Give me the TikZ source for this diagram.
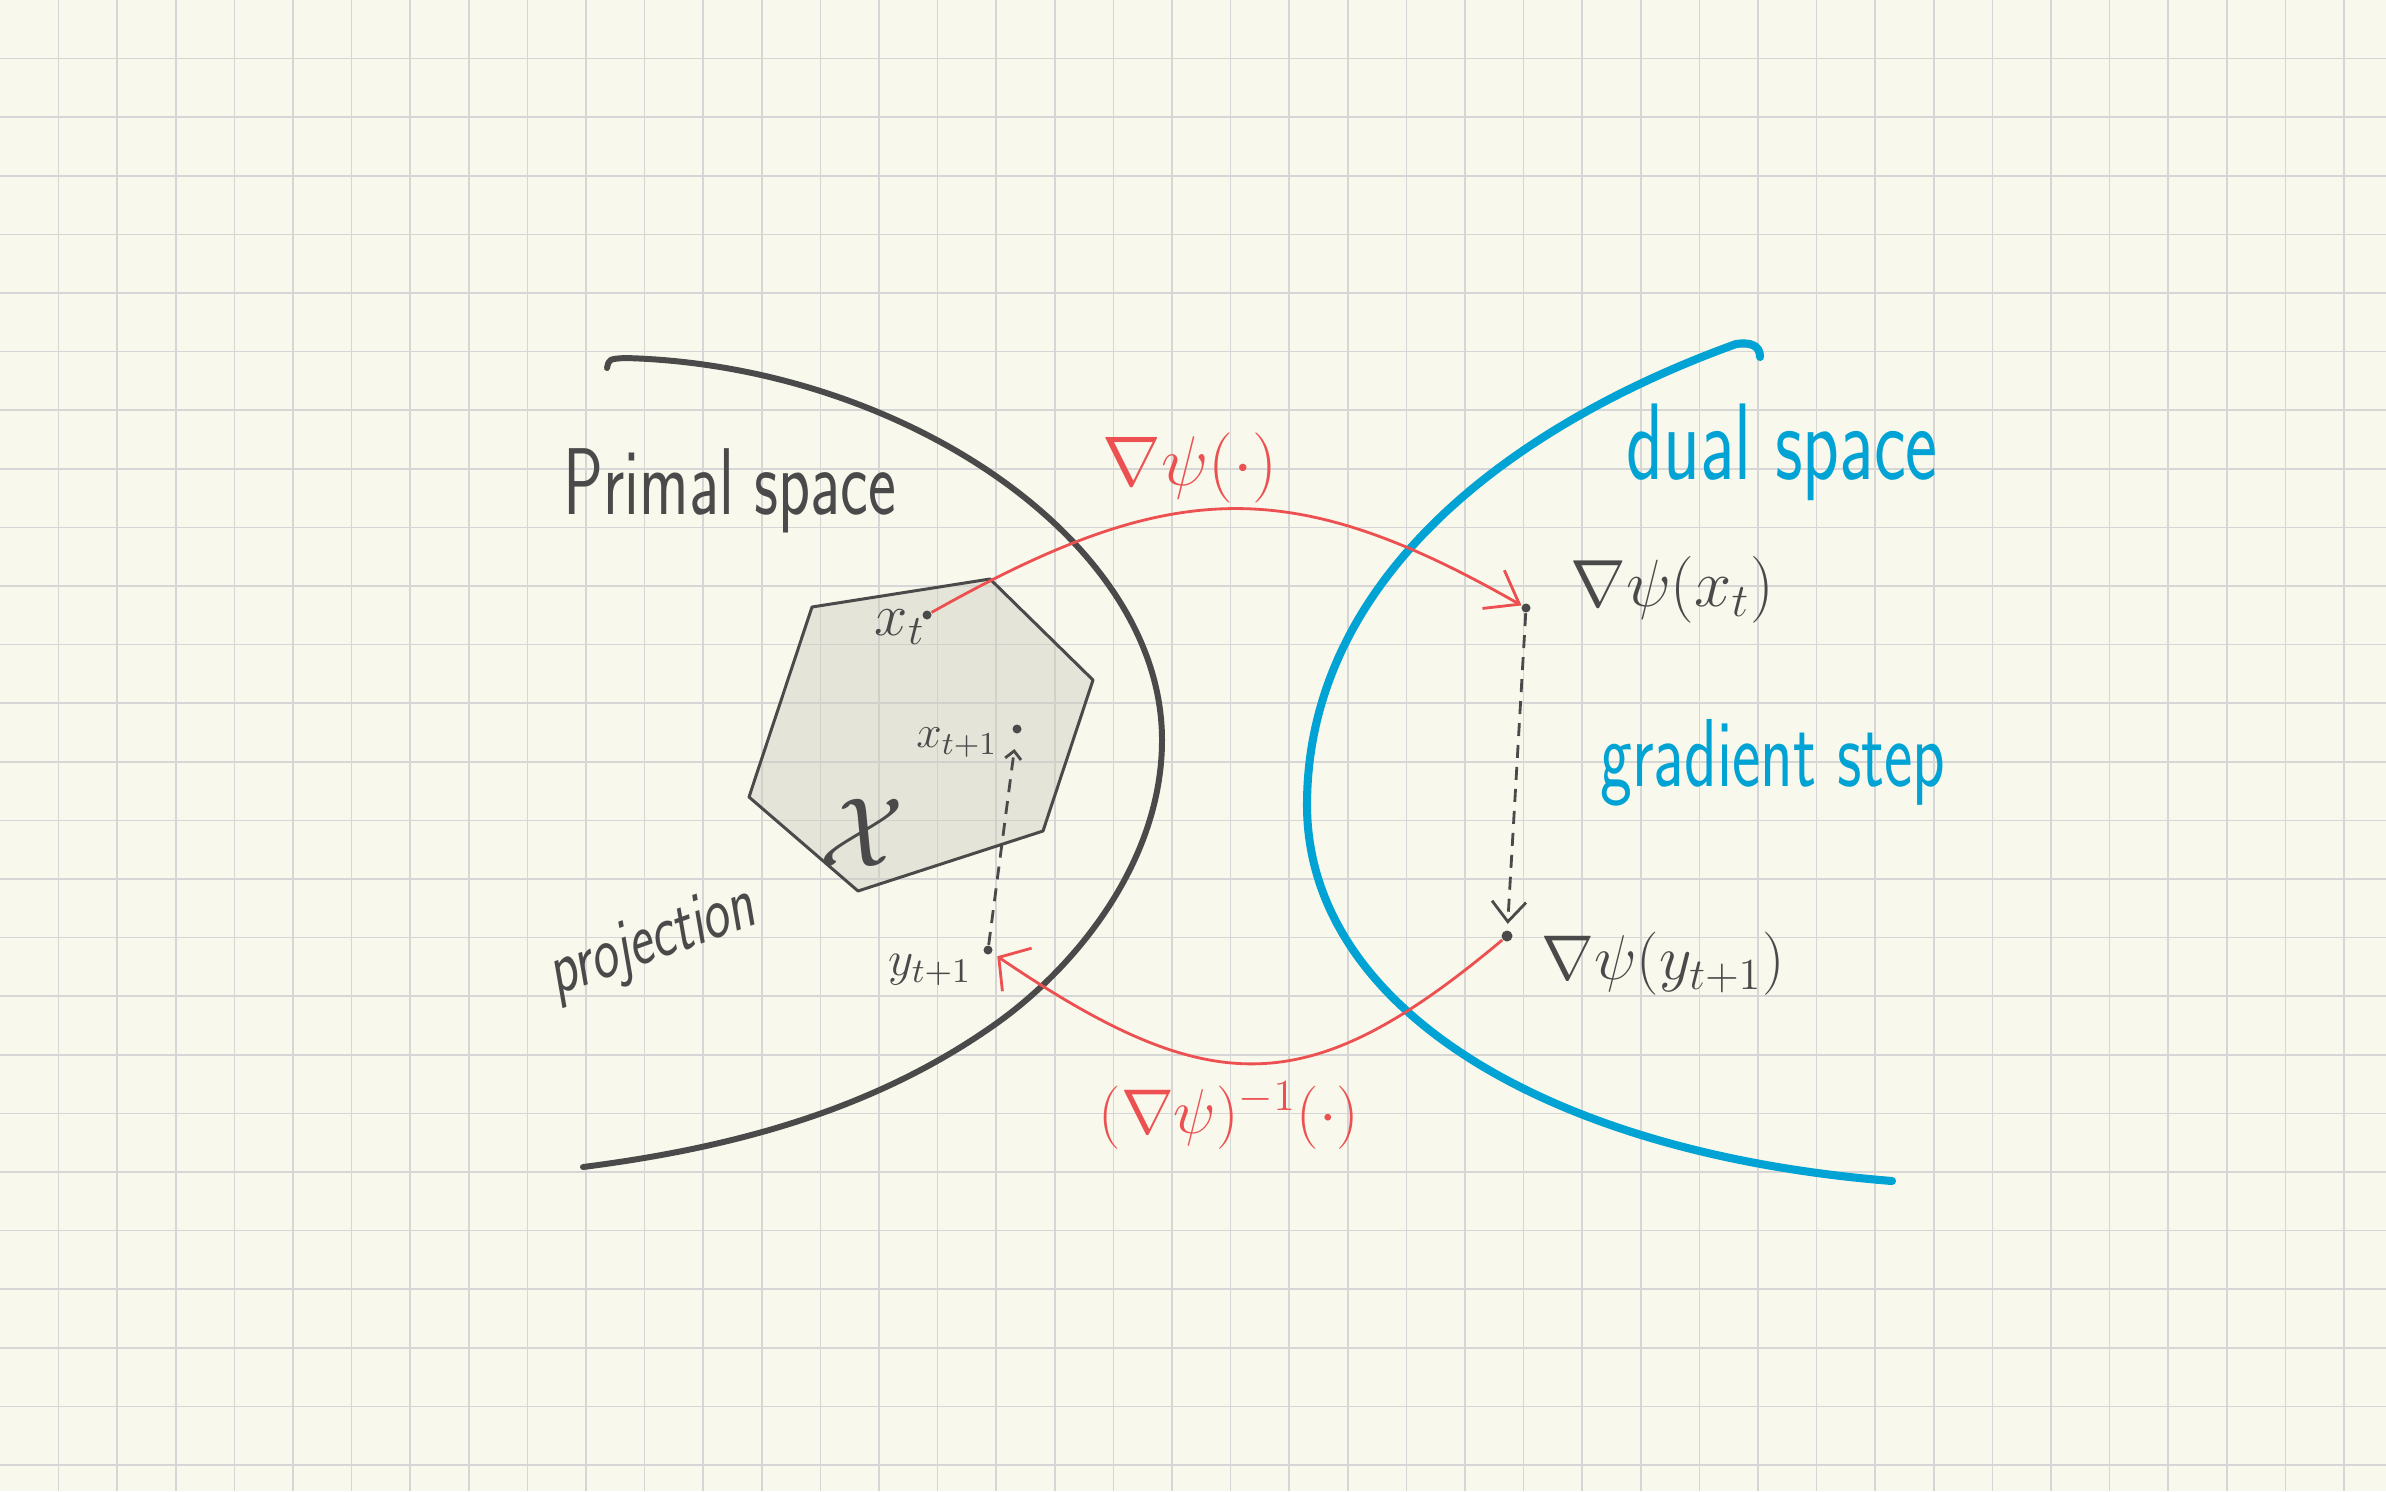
\RequirePackage{fix-cm}
\documentclass[tikz,border=0pt]{standalone}
\usetikzlibrary{arrows.meta}
\definecolor{paper}{RGB}{249,248,236}
\definecolor{gridgray}{RGB}{214,214,214}
\definecolor{ink}{RGB}{74,74,74}
\definecolor{dualblue}{RGB}{0,163,212}
\definecolor{mapred}{RGB}{236,80,80}
\definecolor{regiongray}{RGB}{205,205,192}

\begin{document}
\begin{tikzpicture}[x=0.1mm,y=-0.1mm,
  gridline/.style={draw=gridgray,line width=0.45pt},
  primal/.style={draw=ink,line width=1.7pt,line cap=round,line join=round},
  dual/.style={draw=dualblue,line width=2.3pt,line cap=round,line join=round},
  region/.style={draw=ink,line width=0.85pt,line join=round,fill=regiongray,fill opacity=0.45},
  dot/.style={circle,fill=ink,inner sep=0pt,minimum size=0.9mm},
  mapping/.style={draw=mapred,line width=0.8pt},
  stepline/.style={draw=ink,line width=0.8pt,dash pattern=on 1.3mm off 0.9mm},
  hand/.style={text=ink,inner sep=0pt,xscale=0.7},
  maths/.style={text=ink,inner sep=0pt}]
				  %PAPER
				  \useasboundingbox (0,0) rectangle (2386,1491);
				  \fill[paper] (0,0) rectangle (2386,1491);
				  \foreach \i in {1,...,40} \draw[gridline] (\i*58.6,0) -- (\i*58.6,1491);
				  \foreach \j in {1,...,25} \draw[gridline] (0,\j*58.6) -- (2386,\j*58.6);

				  %PRIMAL SPACE
				  \draw[primal] (607,368) .. controls (609,359) .. (625,358)
				    .. controls (900,365) and (1162,540) .. (1162,740)
				    .. controls (1162,860) and (1078,965) .. (997,1023)
				    .. controls (875,1110) and (732,1148) .. (583,1167);
				  \node[hand,font=\sffamily\fontsize{27}{32}\selectfont] (primallabel) at (730,491) {Primal space};
				  \node[hand,font=\sffamily\fontsize{22}{26}\selectfont,rotate=14] (projlabel) at (655,943) {projection};

				  %CONVEX SET
				  \draw[region] (812,607) -- (990,579) -- (1093,680) -- (1043,831) -- (858,891) -- (749,797) -- cycle;
				  \node[maths,font=\fontsize{28}{32}\selectfont] (setlabel) at (862,833) {$\mathcal{X}$};

				  %DUAL SPACE
				  \draw[dual] (1760,357) .. controls (1760,345) and (1750,342) .. (1736,344)
				    .. controls (1501,429) and (1307,585) .. (1307,805)
				    .. controls (1307,1005) and (1542,1153) .. (1892,1181);
				  \node[hand,text=dualblue,font=\sffamily\fontsize{31}{36}\selectfont] (duallabel) at (1782,452) {dual space};
				  \node[hand,text=dualblue,font=\sffamily\fontsize{27.5}{32}\selectfont] (steplabel) at (1773,763) {gradient step};

				  %POINTS
				  \node[dot] (xt) at (927,615) {};
				  \node[dot] (xtt) at (1017,729) {};
				  \node[dot] (ytt) at (988,950) {};
				  \node[dot] (gxt) at (1526,608) {};
				  \node[dot,minimum size=1.1mm] (gyt) at (1507,936) {};
				  \node[maths,font=\fontsize{17}{20}\selectfont] (xtlabel) at (900,627) {$x_t$};
				  \node[maths,font=\fontsize{13}{16}\selectfont] (xttlabel) at (957,743) {$x_{t+1}$};
				  \node[maths,font=\fontsize{14}{17}\selectfont] (yttlabel) at (930,970) {$y_{t+1}$};
				  \node[maths,font=\fontsize{19}{23}\selectfont] (gxtlabel) at (1672,590) {$\nabla\psi(x_t)$};
				  \node[maths,font=\fontsize{18}{22}\selectfont] (gytlabel) at (1663,964) {$\nabla\psi(y_{t+1})$};

				  %MIRROR MAPS
				  \draw[mapping,-{Straight Barb[length=3mm,width=4.4mm]}] (xt) .. controls (1170,478) and (1290,473) .. (gxt);
				  \node[maths,text=mapred,font=\fontsize{20}{24}\selectfont] (fwdlabel) at (1190,468) {$\nabla\psi(\cdot)$};
				  \draw[mapping,-{Straight Barb[length=2.2mm,width=5.2mm]},shorten >=0.6mm] (gyt) .. controls (1309,1102) and (1212,1102) .. (ytt);
				  \node[maths,text=mapred,font=\fontsize{18}{22}\selectfont] (invlabel) at (1229,1116) {$(\nabla\psi)^{-1}(\cdot)$};

				  %STEPS
				  \draw[stepline,-{Straight Barb[length=2mm,width=3.4mm]},shorten >=0.6mm] (gxt) -- (gyt);
				  \draw[stepline,-{Straight Barb[length=0.8mm,width=1.6mm]},shorten >=1.5mm] (ytt) -- (xtt);
\end{tikzpicture}
\end{document}
